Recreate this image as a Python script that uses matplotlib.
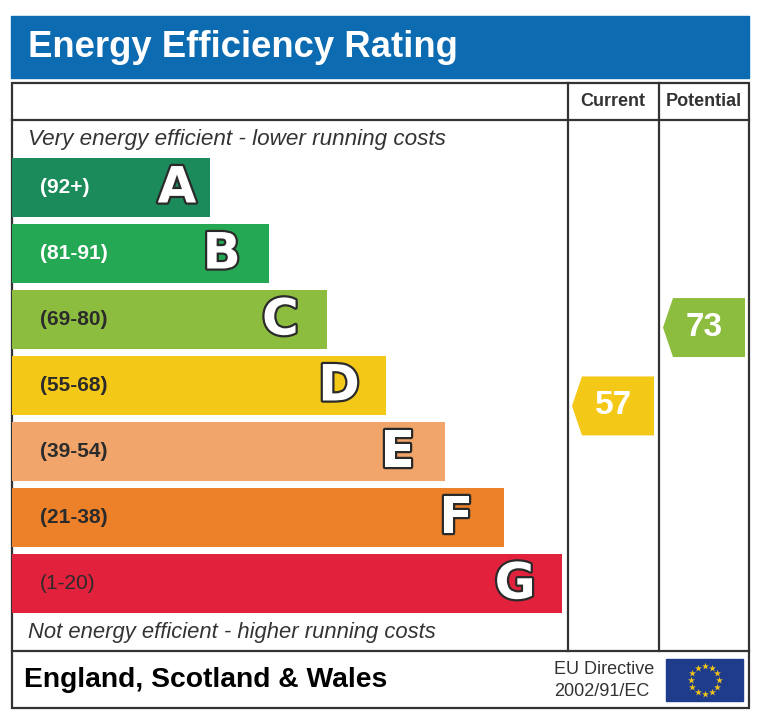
import matplotlib.pyplot as plt
import matplotlib.patheffects as pe
from matplotlib.patches import Polygon, Rectangle
import numpy as np

# data
bands = ['A', 'B', 'C', 'D', 'E', 'F', 'G']
ranges = ['(92+)', '(81-91)', '(69-80)', '(55-68)', '(39-54)', '(21-38)', '(1-20)']
lows = [92, 81, 69, 55, 39, 21, 1]
highs = [100, 91, 80, 68, 54, 38, 20]
colors = ['#1c8b5b', '#25a853', '#8dbd3f', '#f4c816', '#f1a56a', '#ec8129', '#e2213c']
label_colors = ['white', 'white', '#2b2b2b', '#2b2b2b', '#2b2b2b', '#2b2b2b', '#2b2b2b']
current = 57
potential = 73

W, H = 767, 728
fig = plt.figure(figsize=(W / 100, H / 100), dpi=100)
ax = fig.add_axes([0, 0, 1, 1])
ax.set_xlim(0, W)
ax.set_ylim(H, 0)
ax.axis('off')

font = 'Liberation Sans'
line_col = '#333333'

# header
ax.add_patch(Rectangle((11, 16), 738, 62, color='#0c6bb1'))
ax.text(28, 57, 'Energy Efficiency Rating', color='white', fontsize=26.3,
        fontweight='bold', family=font, va='baseline')

# table frame
ax.add_patch(Rectangle((12, 83), 737, 625, fill=False, ec=line_col, lw=1.6))
ax.plot([12, 749], [120, 120], color=line_col, lw=1.6)
ax.plot([12, 749], [651, 651], color=line_col, lw=1.6)
for x in [568, 659]:
    ax.plot([x, x], [83, 651], color=line_col, lw=1.6)
ax.text(613, 101, 'Current', ha='center', va='center', fontsize=13,
        fontweight='bold', family=font, color=line_col)
ax.text(704, 101, 'Potential', ha='center', va='center', fontsize=13,
        fontweight='bold', family=font, color=line_col)

ax.text(28, 145, 'Very energy efficient - lower running costs', fontsize=16.2,
        style='italic', family=font, color=line_col, va='baseline')
ax.text(28, 638, 'Not energy efficient - higher running costs', fontsize=15.8,
        style='italic', family=font, color=line_col, va='baseline')

# bands
bar_h = 59
tops = 158 + 66 * np.arange(len(bands))
rights = 210 + 58.7 * np.arange(len(bands))
ax.barh(tops + bar_h / 2, rights - 12, left=12, height=bar_h, color=colors)

for i, b in enumerate(bands):
    cy = tops[i] + bar_h / 2
    ax.text(40, cy, ranges[i], color=label_colors[i], fontsize=15,
            fontweight='normal' if b == 'G' else 'bold', family=font,
            ha='left', va='center')
    lx = rights[i] - (33 if i == 0 else 47)
    ax.text(lx, cy + 1, b, color='white', fontsize=36, fontweight='bold',
            family='DejaVu Sans', ha='center', va='center',
            path_effects=[pe.withStroke(linewidth=3.2, foreground='#2a2a2a')])


def rating_arrow(value, x_left, x_right):
    i = next(k for k in range(len(bands)) if lows[k] <= value <= highs[k])
    cy = tops[i] + (highs[i] - value) / (highs[i] - lows[i]) * bar_h
    top, bot = cy - bar_h / 2, cy + bar_h / 2
    pts = [(x_left, cy), (x_left + 10, top), (x_right, top),
           (x_right, bot), (x_left + 10, bot)]
    ax.add_patch(Polygon(pts, closed=True, color=colors[i], lw=0))
    ax.text((x_left + x_right) / 2, cy, str(value), color='white', fontsize=24,
            fontweight='bold', family=font, ha='center', va='center')


rating_arrow(current, 572, 654)
rating_arrow(potential, 663, 745)

# footer
ax.text(24, 680, 'England, Scotland & Wales', fontsize=20.3, fontweight='bold',
        family=font, color='black', va='center')
ax.text(554, 670, 'EU Directive', fontsize=13, family=font, color=line_col,
        va='center')
ax.text(554, 691, '2002/91/EC', fontsize=13, family=font, color=line_col,
        va='center')

ax.add_patch(Rectangle((666, 659), 77, 42, color='#1f3c8c'))
ang = np.linspace(0, 2 * np.pi, 12, endpoint=False)
ax.scatter(704.5 + 14 * np.cos(ang), 680 + 14 * np.sin(ang), marker='*',
           s=28, color='#f0c419', lw=0, zorder=5)

fig.savefig('out.png', dpi=100)
